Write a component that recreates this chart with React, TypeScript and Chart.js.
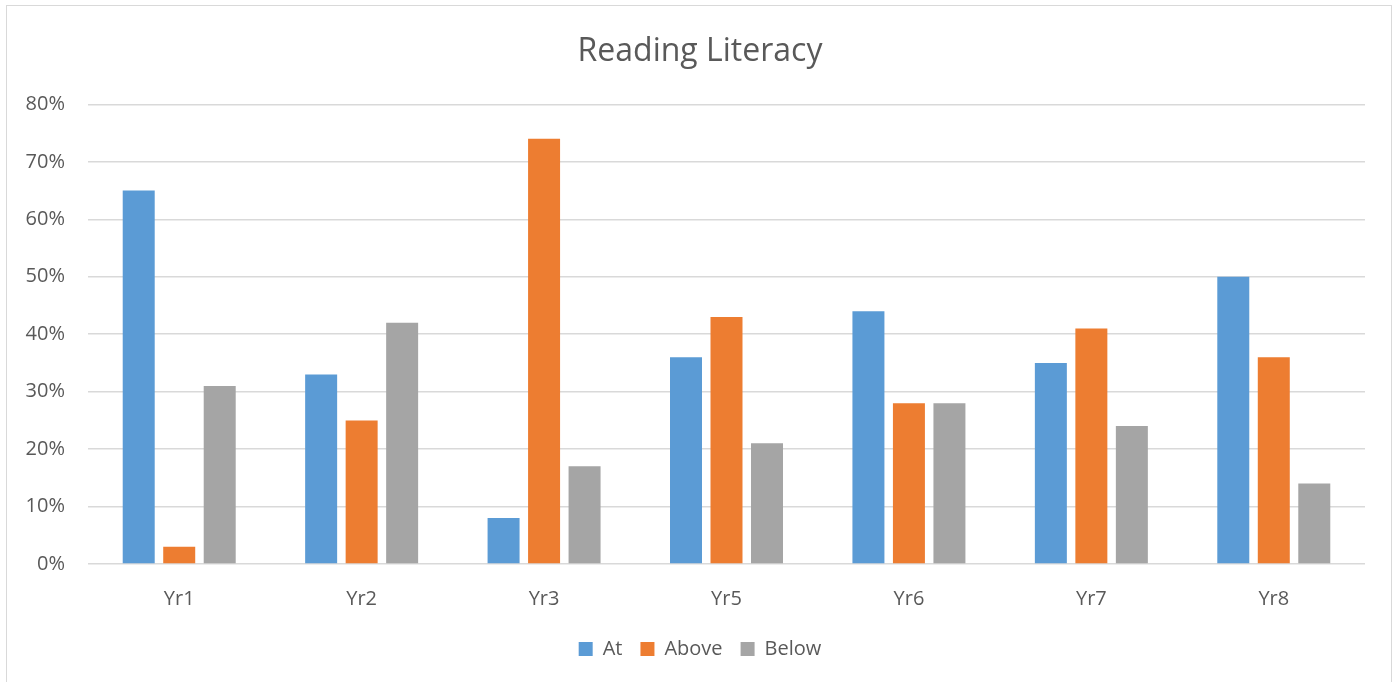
import React, { useEffect, useRef } from "react";
import { Chart, registerables } from "chart.js";

Chart.register(...registerables);

const categories = ["Yr1", "Yr2", "Yr3", "Yr5", "Yr6", "Yr7", "Yr8"];
const atValues = [65, 33, 8, 36, 44, 35, 50];
const aboveValues = [3, 25, 74, 43, 28, 41, 36];
const belowValues = [31, 42, 17, 21, 28, 24, 14];
const yTicks = [0, 10, 20, 30, 40, 50, 60, 70, 80];

const FONT = "'Open Sans', sans-serif";
const TEXT = "#595959";

export default function App() {
  const ref = useRef<HTMLCanvasElement>(null);

  useEffect(() => {
    if (!ref.current) return;
    const chart = new Chart(ref.current, {
      type: "bar",
      data: {
        labels: categories,
        datasets: [
          { label: "At", data: atValues, backgroundColor: "#5B9BD5" },
          { label: "Above", data: aboveValues, backgroundColor: "#ED7D31" },
          { label: "Below", data: belowValues, backgroundColor: "#A5A5A5" },
        ].map((d) => ({ ...d, categoryPercentage: 0.666, barPercentage: 0.79, borderWidth: 0 })),
      },
      options: {
        animation: false,
        responsive: false,
        maintainAspectRatio: false,
        layout: { padding: { left: 0, right: 0, top: 18, bottom: 13 } },
        plugins: {
          title: {
            display: true,
            text: "Reading Literacy",
            color: TEXT,
            font: { family: FONT, size: 32, weight: "normal" },
            padding: { top: 15, bottom: 33 },
          },
          legend: {
            position: "bottom",
            labels: {
              color: TEXT,
              font: { family: FONT, size: 20 },
              boxWidth: 14,
              boxHeight: 14,
              padding: 18,
            },
          },
          tooltip: { enabled: false },
        },
        scales: {
          x: {
            grid: { display: false },
            border: { display: false },
            ticks: { color: TEXT, font: { family: FONT, size: 20 }, padding: 15 },
            afterFit: (s: any) => { s.height = 57; },
          },
          y: {
            min: 0,
            max: 80,
            afterBuildTicks: (s: any) => { s.ticks = yTicks.map((v) => ({ value: v })); },
            grid: { color: "#D9D9D9", lineWidth: 1.5, drawTicks: false },
            border: { display: false },
            ticks: {
              color: TEXT,
              font: { family: FONT, size: 20 },
              padding: 23,
              callback: (v: any) => v + "%",
            },
            afterFit: (s: any) => { s.width = 88; },
          },
          yRightSpacer: {
            type: "linear",
            position: "right",
            min: 0,
            max: 80,
            grid: { display: false, drawTicks: false },
            border: { display: false },
            ticks: { display: false },
            afterFit: (s: any) => { s.width = 35; },
          },
        },
      },
    });
    return () => chart.destroy();
  }, []);

  return (
    <div style={{ position: "fixed", left: 0, top: 0, width: 1400, height: 682, background: "#fff", overflow: "hidden" }}>
      <div style={{ position: "absolute", left: 6, top: 5, width: 1386, height: 720, border: "1.5px solid #D9D9D9", boxSizing: "border-box" }} />
      <canvas ref={ref} width={1400} height={682} style={{ position: "absolute", left: 0, top: 0, width: 1400, height: 682 }} />
    </div>
  );
}
